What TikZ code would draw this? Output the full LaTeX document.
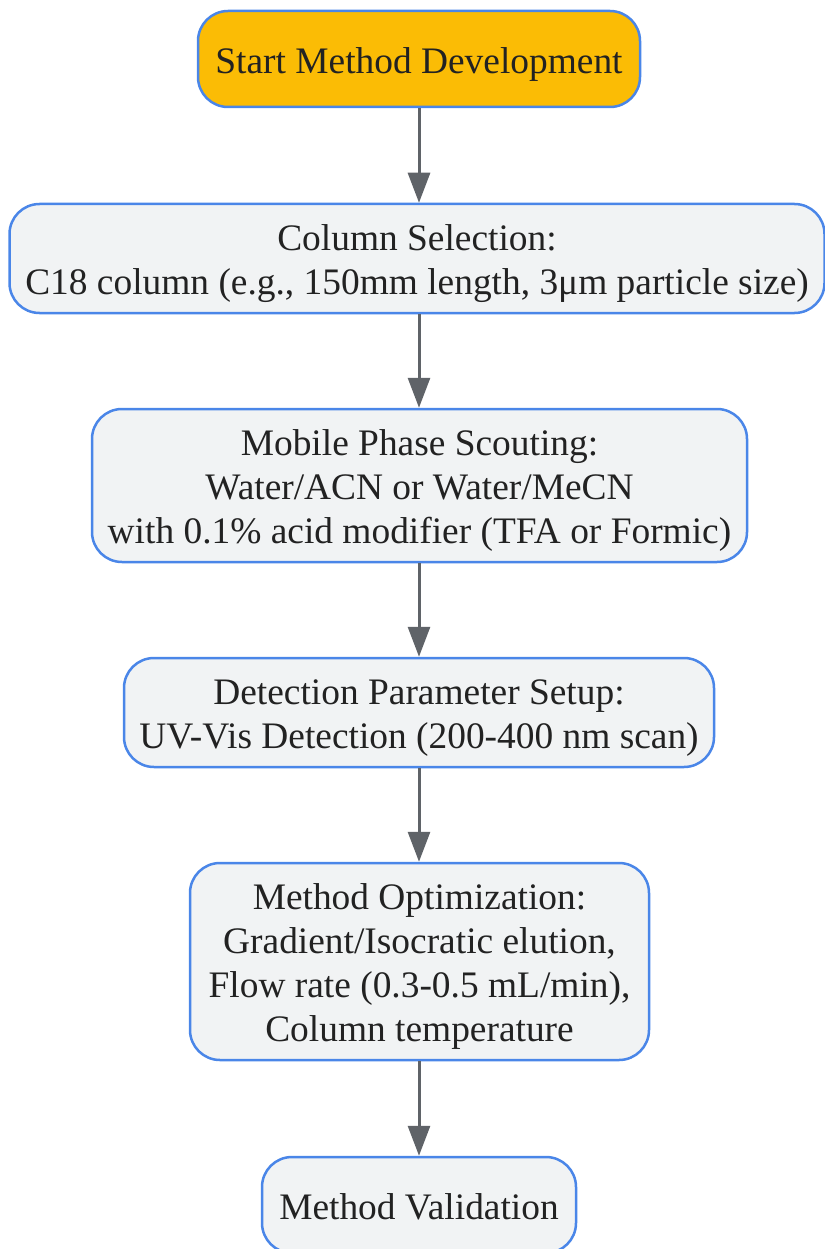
\documentclass[tikz,border=0pt]{standalone}
\usepackage{fontspec}
\setmainfont{Liberation Serif}
\usepackage{tikz}
\usetikzlibrary{positioning, arrows.meta, calc}

\definecolor{startfill}{HTML}{FBBC05}
\definecolor{stepfill}{HTML}{F1F3F4}
\definecolor{stepborder}{HTML}{4A86E8}
\definecolor{arrowgray}{HTML}{5F6368}
\definecolor{textdark}{HTML}{222222}

\def\px{1pt}
% struts so that text sits like in the original boxes
\newcommand{\firststrut}{\rule{0pt}{38pt}}
\newcommand{\laststrut}{\rule[-9.4pt]{0pt}{9.4pt}}

\begin{document}
\begin{tikzpicture}[
        x=\px, y=-\px,
        box/.style={draw=stepborder, line width=2.5pt, fill=stepfill,
            rounded corners=30pt, align=center, text=textdark,
            font=\fontsize{37.4}{44}\selectfont, inner sep=0pt},
        startbox/.style={box, fill=startfill},
        flow/.style={draw=arrowgray, line width=3pt,
            -{Triangle[length=30pt, width=22pt]}}
    ]
    \useasboundingbox (0,0) rectangle (824,1249);

    % steps
    \node[startbox, minimum width=442pt, minimum height=96pt] (start) at (419,59)
        {\firststrut Start Method Development\laststrut};
    \node[box, minimum width=815pt, minimum height=109pt] (column) at (417,258.5)
        {\firststrut Column Selection:\\C18 column (e.g., 150mm length, 3μm particle size)\laststrut};
    \node[box, minimum width=655pt, minimum height=153pt] (mobile) at (419.5,485.5)
        {\firststrut Mobile Phase Scouting:\\Water/ACN or Water/MeCN\\with 0.1\% acid modifier (TFA or Formic)\laststrut};
    \node[box, minimum width=590pt, minimum height=109pt] (detect) at (419,712.5)
        {\firststrut Detection Parameter Setup:\\UV-Vis Detection (200-400 nm scan)\laststrut};
    \node[box, minimum width=459pt, minimum height=197pt] (optim) at (419.5,961.5)
        {\firststrut Method Optimization:\\Gradient/Isocratic elution,\\Flow rate (0.3-0.5 mL/min),\\Column temperature\laststrut};
    \node[box, minimum width=314pt, minimum height=96pt] (valid) at (419,1205)
        {\firststrut Method Validation\laststrut};

    % connectors
    \foreach \from/\to in {start/column, column/mobile, mobile/detect,
                           detect/optim, optim/valid}
    {
        \draw[flow] (\from.south -| 419,0) -- (\to.north -| 419,0);
    }
\end{tikzpicture}
\end{document}
